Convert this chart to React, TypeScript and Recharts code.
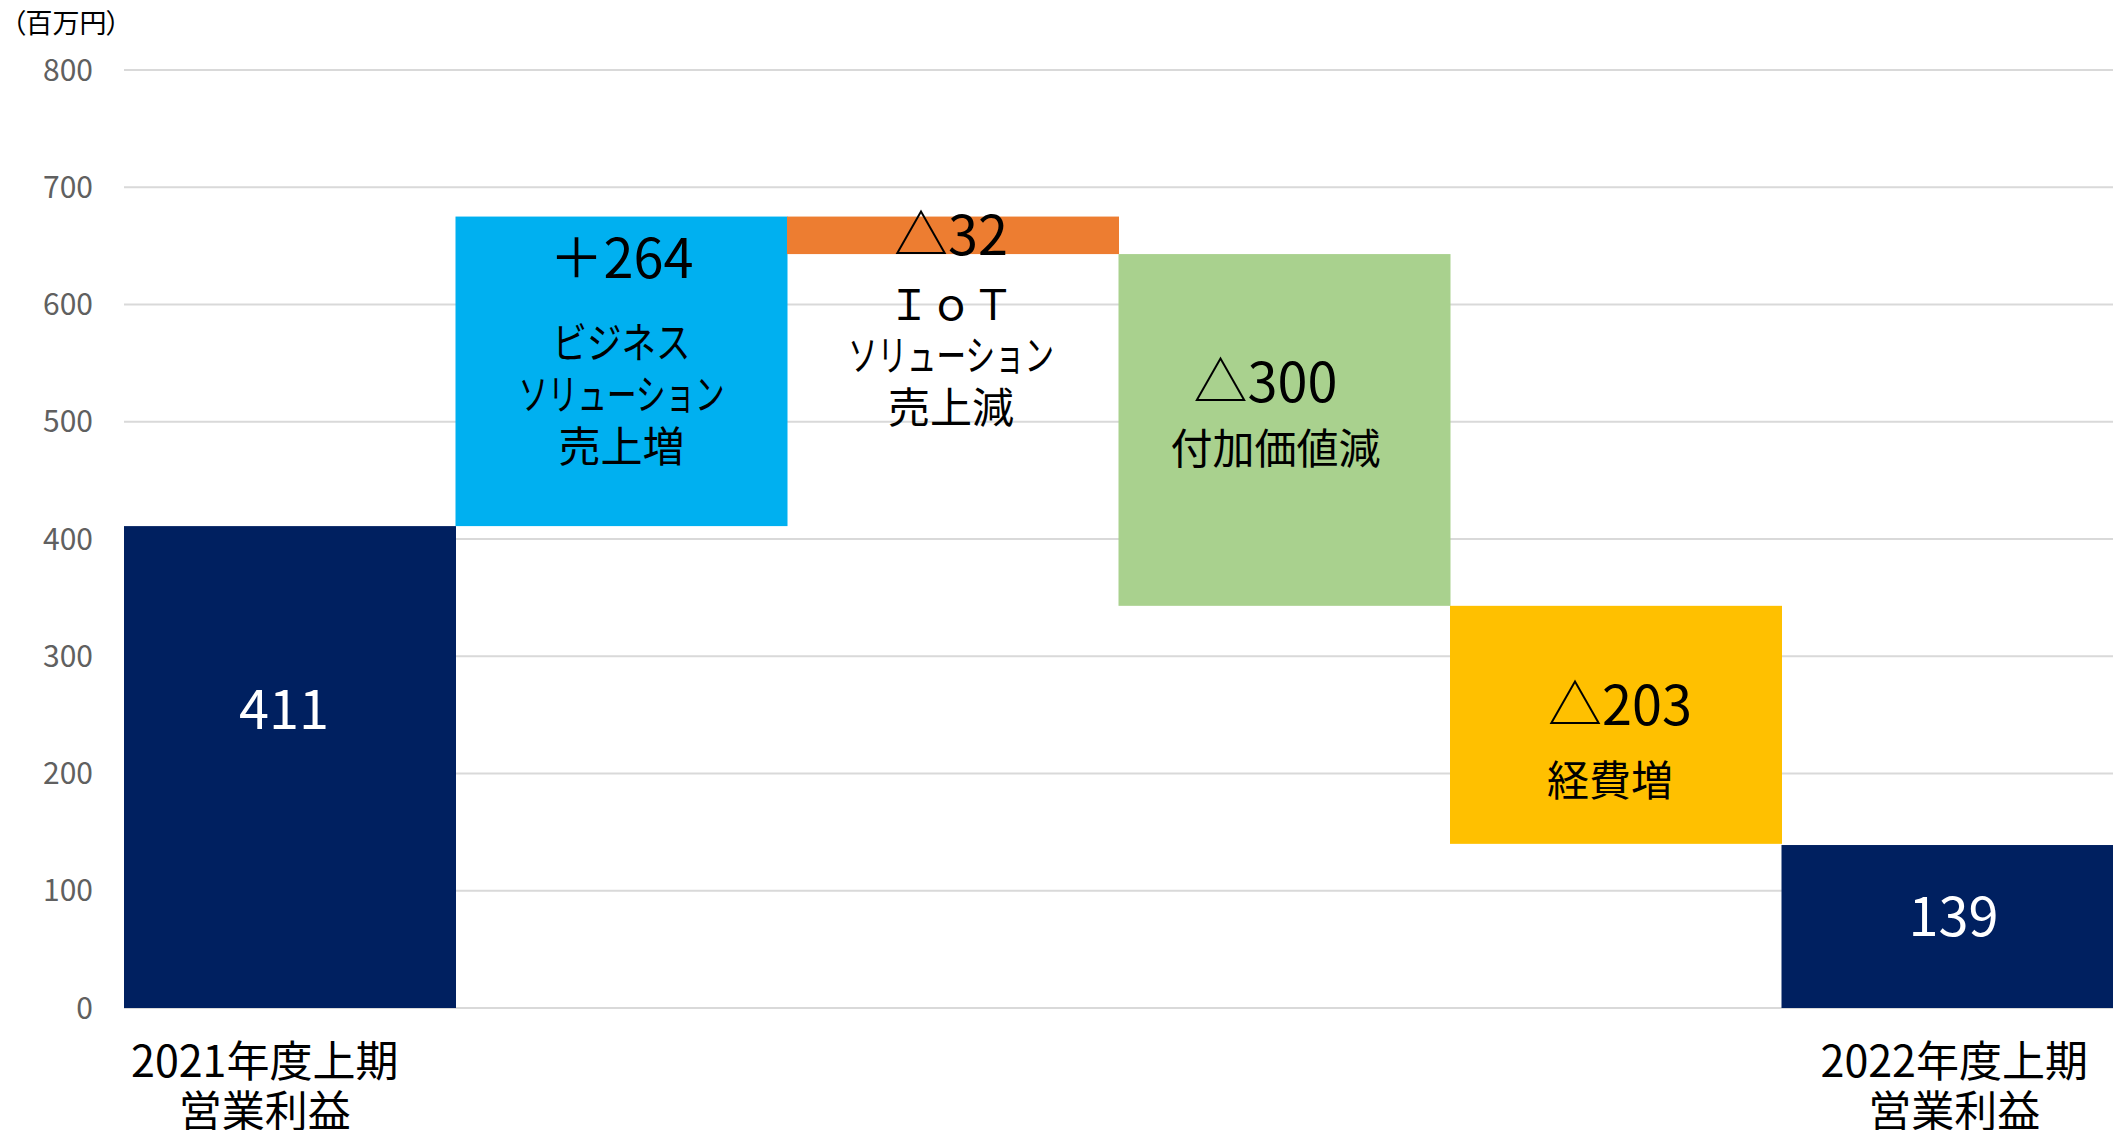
import { Bar, BarChart, CartesianGrid, XAxis, YAxis } from "recharts";

const categories = [
  "2021年度上期営業利益",
  "ビジネスソリューション売上増",
  "IoTソリューション売上減",
  "付加価値減",
  "経費増",
  "2022年度上期営業利益",
];
const startValue = 411;
const deltas = [264, -32, -300, -203];
const endValue = 139;
const valueLabels = ["411", "＋264", "△32", "△300", "△203", "139"];
const noteLabels = [
  [],
  ["ビジネス", "ソリューション", "売上増"],
  ["ＩｏＴ", "ソリューション", "売上減"],
  ["付加価値減"],
  ["経費増"],
  [],
];
const tickLabels = [["2021年度上期", "営業利益"], [], [], [], [], ["2022年度上期", "営業利益"]];
const yTicks = [0, 100, 200, 300, 400, 500, 600, 700, 800];
const barColors = ["#002060", "#00B0F0", "#ED7D31", "#A9D18E", "#FFC000", "#002060"];

// where the texts sit inside each bar: [dx from centre, dy from top, squeeze width?]
const labelLayout = [
  { color: "#fff", value: [-6, 179], notes: [] as number[][] },
  { color: "#000", value: [0, 38], notes: [[0, 123, 138], [0, 175, 206], [0, 227]] },
  { color: "#000", value: [-2, 15], notes: [[-2, 85], [-2, 136, 206], [-2, 188]] },
  { color: "#000", value: [-19, 124], notes: [[-9, 191]] },
  { color: "#000", value: [4, 96], notes: [[-6, 172]] },
  { color: "#fff", value: [6, 67], notes: [] },
];

const FONT = '"Noto Sans CJK JP", "Noto Sans", sans-serif';

function buildRows() {
  const rows = [{ name: categories[0], base: 0, value: startValue }];
  let running = startValue;
  deltas.forEach((d, i) => {
    const next = running + d;
    rows.push({ name: categories[i + 1], base: Math.min(running, next), value: Math.abs(d) });
    running = next;
  });
  rows.push({ name: categories[categories.length - 1], base: 0, value: endValue });
  return rows;
}

const data = buildRows();

function StepBar(props: any) {
  const { x, y, width, height, index } = props;
  const lay = labelLayout[index];
  const cx = x + width / 2;
  return (
    <g>
      <rect x={x} y={y} width={width} height={height} fill={barColors[index]} />
      <text
        x={cx + lay.value[0]}
        y={y + lay.value[1]}
        textAnchor="middle"
        dominantBaseline="central"
        fill={lay.color}
        fontSize={54}
        fontFamily={FONT}
        style={{ fontFeatureSettings: '"palt"' }}
      >
        {valueLabels[index]}
      </text>
      {noteLabels[index].map((t, i) => {
        const [dx, dy, squeeze] = lay.notes[i];
        return (
          <text
            key={i}
            x={cx + dx}
            y={y + dy}
            textAnchor="middle"
            dominantBaseline="central"
            fill="#000"
            fontSize={42}
            fontFamily={FONT}
            textLength={squeeze}
            lengthAdjust={squeeze ? "spacingAndGlyphs" : undefined}
          >
            {t}
          </text>
        );
      })}
    </g>
  );
}

function CategoryTick(props: any) {
  const { x, y, payload } = props;
  const i = categories.indexOf(payload.value);
  const lines = tickLabels[i] || [];
  const dx = i === 0 ? -25 : 7;
  return (
    <g>
      {lines.map((t, k) => (
        <text
          key={k}
          x={x + dx}
          y={y + 50 + k * 50}
          textAnchor="middle"
          dominantBaseline="central"
          fill="#000"
          fontSize={43}
          fontFamily={FONT}
        >
          {t}
        </text>
      ))}
    </g>
  );
}

export default function App() {
  return (
    <div style={{ width: 2113, height: 1130, position: "relative", background: "#fff" }}>
      <style>{`body{margin:0}`}</style>
      <div
        style={{
          position: "absolute",
          left: 12,
          top: 4,
          fontSize: 27,
          fontFamily: FONT,
          color: "#000",
          fontFeatureSettings: '"palt"',
          lineHeight: "36px",
        }}
      >
        （百万円）
      </div>
      <BarChart
        width={2113}
        height={1130}
        data={data}
        barCategoryGap={0}
        margin={{ top: 70, right: 0, bottom: 0, left: 0 }}
      >
        <CartesianGrid stroke="#d9d9d9" strokeWidth={2} vertical={false} />
        <XAxis
          dataKey="name"
          axisLine={false}
          tickLine={false}
          tickSize={0}
          tickMargin={0}
          height={122}
          interval={0}
          tick={<CategoryTick />}
        />
        <YAxis
          domain={[0, 800]}
          ticks={yTicks}
          axisLine={false}
          tickLine={false}
          tickSize={0}
          tickMargin={31}
          width={124}
          tick={{ fill: "#606060", fontSize: 30, fontFamily: FONT }}
        />
        <Bar dataKey="base" stackId="w" fill="transparent" isAnimationActive={false} />
        <Bar dataKey="value" stackId="w" shape={<StepBar />} isAnimationActive={false} />
      </BarChart>
    </div>
  );
}
